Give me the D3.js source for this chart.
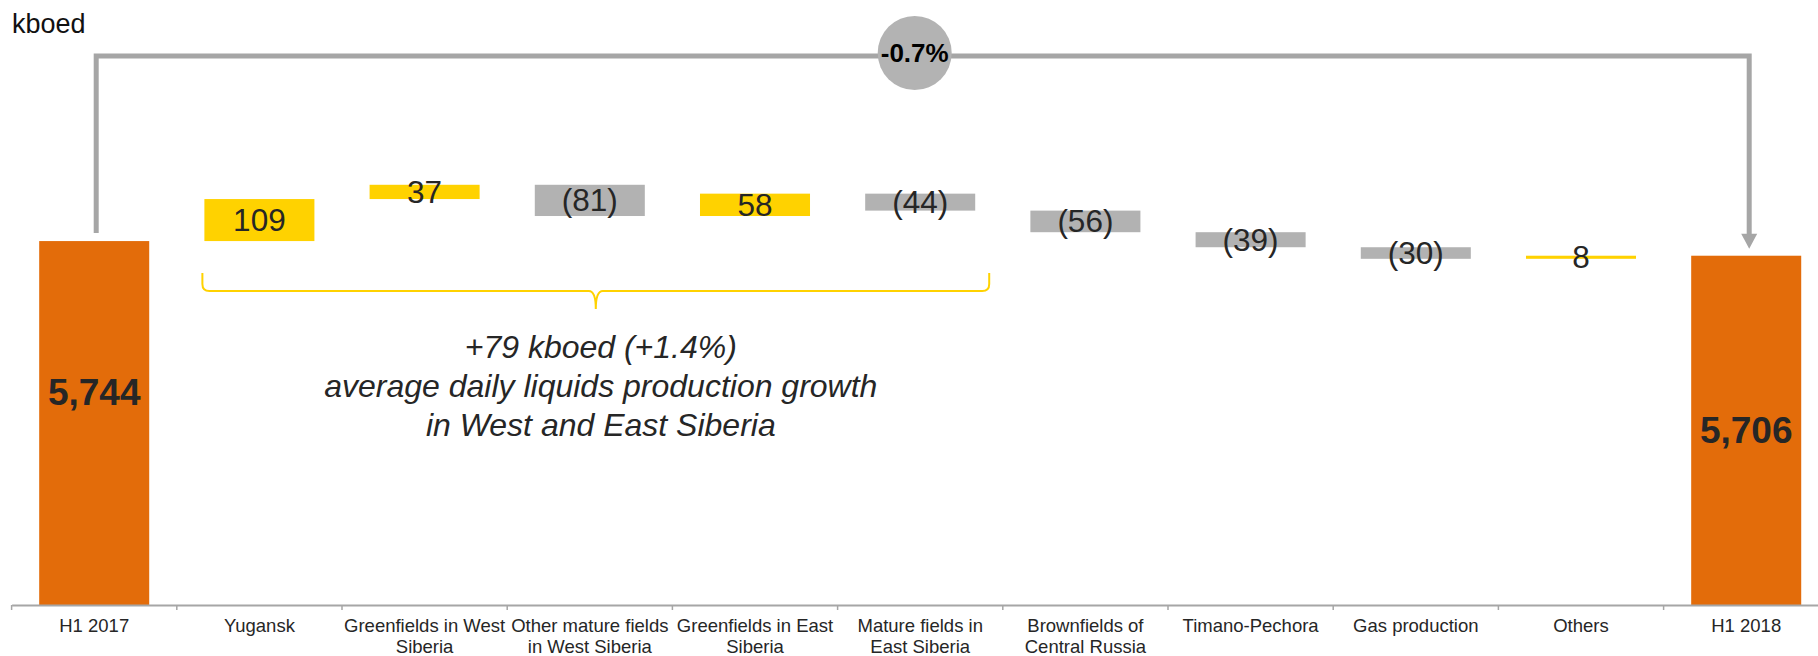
<!DOCTYPE html>
<html>
<head>
<meta charset="utf-8">
<script src="https://cdn.jsdelivr.net/npm/d3@7"></script>
<style>
  html, body { margin: 0; padding: 0; background: #fff; }
  svg { display: block; font-family: "Liberation Sans", Arial, sans-serif; }
</style>
</head>
<body>
<svg id="chart" width="1818" height="656"></svg>
<script>
// waterfall of average daily hydrocarbon production, H1 2017 -> H1 2018

var categories = ["H1 2017", "Yugansk", "Greenfields in West\nSiberia", "Other mature fields\nin West Siberia",
    "Greenfields in East\nSiberia", "Mature fields in\nEast Siberia", "Brownfields of\nCentral Russia",
    "Timano-Pechora", "Gas production", "Others", "H1 2018"];
var values = [5744, 109, 37, -81, 58, -44, -56, -39, -30, 8, 5706];
var isTotal = [true, false, false, false, false, false, false, false, false, false, true];
var unitLabel = "kboed";
var changeLabel = "-0.7%";
var noteLines = ["+79 kboed (+1.4%)", "average daily liquids production growth", "in West and East Siberia"];
var noteFrom = 1, noteTo = 5; // bars covered by the brace

var svg = d3.select("#chart"),
    width = 1818, height = 656,
    axisY = 605;

var orange = "#e36c0a", yellow = "#ffd200", grey = "#b2b2b2", lineGrey = "#a6a6a6", textCol = "#262626";

// running totals
var data = [], run = 0;
for (var i = 0; i < categories.length; i++) {
    var v = values[i], d = {cat: categories[i], v: v, total: isTotal[i]};
    if (d.total) { d.lo = 4800; d.hi = v; run = v; }
    else { d.lo = Math.min(run, run + v); d.hi = Math.max(run, run + v); run += v; }
    data.push(d);
}

var x = d3.scaleBand()
    .domain(categories)
    .range([11.6, 11.6 + 165.2 * categories.length])
    .paddingInner(0.334)
    .paddingOuter(0.167);

var y = d3.scaleLinear()
    .domain([4800, 6250])
    .range([axisY, 46]);

var fmt = d3.format(",");
function label(d) {
    if (d.total) return fmt(d.v);
    return d.v < 0 ? "(" + Math.abs(d.v) + ")" : "" + d.v;
}

// bars
svg.append("g").selectAll("rect")
    .data(data)
    .enter().append("rect")
    .attr("x", function(d) { return x(d.cat) })
    .attr("width", x.bandwidth())
    .attr("y", function(d) { return y(d.hi) })
    .attr("height", function(d) { return Math.max(2.5, y(d.lo) - y(d.hi)) })
    .attr("fill", function(d) { return d.total ? orange : (d.v >= 0 ? yellow : grey) });

// value labels
svg.append("g").selectAll("text")
    .data(data)
    .enter().append("text")
    .attr("x", function(d) { return x(d.cat) + x.bandwidth() / 2 })
    .attr("y", function(d) {
        if (d.total) return d.v > 5730 ? 392 : (y(d.lo) + y(d.hi)) / 2;
        return (y(d.lo) + y(d.hi)) / 2;
    })
    .attr("dy", "0.35em")
    .attr("text-anchor", "middle")
    .attr("fill", textCol)
    .style("font-size", function(d) { return d.total ? "37px" : "31.5px" })
    .style("font-weight", function(d) { return d.total ? "bold" : "normal" })
    .text(label);

// x axis
var xAxis = svg.append("g")
    .attr("transform", "translate(0," + axisY + ")")
    .call(d3.axisBottom(x).tickSize(0).tickSizeOuter(0));
xAxis.select(".domain").attr("stroke", lineGrey).attr("stroke-width", 2);
xAxis.selectAll(".tick text").each(function(t) {
    var el = d3.select(this).text(null).attr("y", 27).attr("dy", null)
        .attr("fill", textCol).style("font-size", "18.5px")
        .style("font-family", "'Liberation Sans', Arial, sans-serif");
    t.split("\n").forEach(function(s, k) {
        el.append("tspan").attr("x", 0).attr("dy", k ? 20.5 : 0).text(s);
    });
});
// boundary ticks
var step = x.step(), x0 = x.range()[0];
xAxis.selectAll(".bound")
    .data(d3.range(categories.length + 1))
    .enter().append("line")
    .attr("x1", function(k) { return x0 + k * step })
    .attr("x2", function(k) { return x0 + k * step })
    .attr("y1", 0).attr("y2", 5)
    .attr("stroke", lineGrey).attr("stroke-width", 1.5);

// unit
svg.append("text").attr("x", 12).attr("y", 33)
    .style("font-size", "27px").attr("fill", "#111").text(unitLabel);

// overall change connector
var first = data[0], last = data[data.length - 1],
    xl = x(first.cat) + x.bandwidth() / 2 + 2,
    xr = x(last.cat) + x.bandwidth() / 2 + 3,
    topY = 56;
svg.append("path")
    .attr("d", "M" + xl + "," + (y(first.hi) - 8) + "V" + topY + "H" + xr + "V" + (y(last.hi) - 20))
    .attr("fill", "none").attr("stroke", lineGrey).attr("stroke-width", 5);
svg.append("path")
    .attr("d", "M" + (xr - 8) + "," + (y(last.hi) - 22) + "L" + (xr + 8) + "," + (y(last.hi) - 22) + "L" + xr + "," + (y(last.hi) - 7) + "Z")
    .attr("fill", lineGrey);
var cx = (xl + xr) / 2 - 8;
svg.append("circle").attr("cx", cx).attr("cy", 53).attr("r", 37).attr("fill", "#b3b3b3");
svg.append("text").attr("x", cx).attr("y", 53).attr("dy", "0.35em")
    .attr("text-anchor", "middle").style("font-size", "26px").style("font-weight", "bold")
    .attr("fill", "#000").text(changeLabel);

// brace under the Siberian bars
var bx0 = x(categories[noteFrom]) - 2,
    bx1 = x(categories[noteTo]) + x.bandwidth() + 14,
    bm = (bx0 + bx1) / 2,
    bt = 273, bh = 291, bb = 309;
svg.append("path")
    .attr("d", "M" + bx0 + "," + bt + "V" + (bh - 7) + "Q" + bx0 + "," + bh + " " + (bx0 + 7) + "," + bh +
        "H" + (bm - 7) + "Q" + bm + "," + bh + " " + bm + "," + bb +
        "Q" + bm + "," + bh + " " + (bm + 7) + "," + bh +
        "H" + (bx1 - 7) + "Q" + bx1 + "," + bh + " " + bx1 + "," + (bh - 7) + "V" + bt)
    .attr("fill", "none").attr("stroke", yellow).attr("stroke-width", 2);

svg.append("g").selectAll("text")
    .data(noteLines)
    .enter().append("text")
    .attr("x", bm + 5)
    .attr("y", function(d, k) { return 358 + k * 39 })
    .attr("text-anchor", "middle")
    .style("font-size", "32px").style("font-style", "italic")
    .attr("fill", textCol)
    .text(function(d) { return d });
</script>
</body>
</html>
